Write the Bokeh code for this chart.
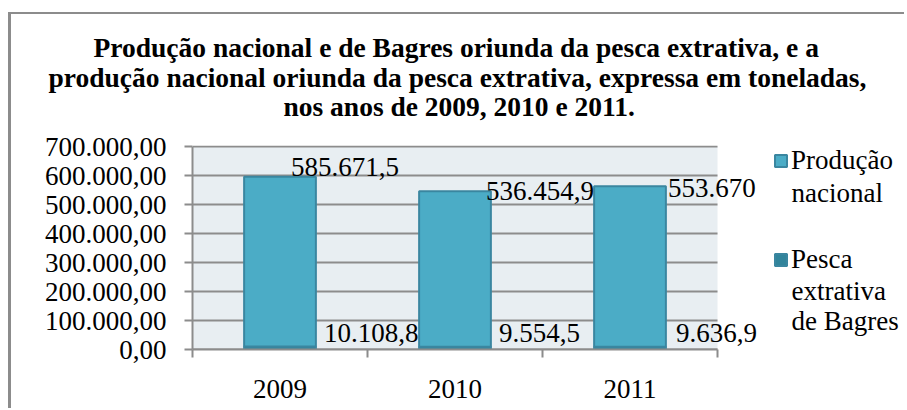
import numpy as np
from bokeh.plotting import figure
from bokeh.models import (Range1d, FixedTicker, LinearAxis, Legend, LegendItem,
                          Label, Title, ColumnDataSource)
from bokeh.embed import file_html
from bokeh.resources import INLINE

# ---- data ----
years = ["2009", "2010", "2011"]
producao_nacional = [585671.5, 536454.9, 553670.0]
pesca_bagres = [10108.8, 9554.5, 9636.9]
y_ticks = [0, 100000, 200000, 300000, 400000, 500000, 600000, 700000]
series_lines = [["Produção", "nacional"], ["Pesca", "extrativa", "de Bagres"]]
title_lines = [
    "Produção nacional e de Bagres oriunda da pesca extrativa, e a",
    "produção nacional oriunda da pesca extrativa, expressa em toneladas,",
    "nos anos de 2009, 2010 e 2011.",
]

# pixel offsets of the manually placed data labels
top_dx = [11, 31, 38]
top_dy = [10, 0, -2]
bot_dx = [44, 44, 46]
bot_dy = [14, 14, 14]


def fmt_br(v, decimals):
    s = f"{v:,.{decimals}f}"
    return s.replace(",", "X").replace(".", ",").replace("X", ".")


def fmt_label(v):
    return fmt_br(v, 0) if float(v).is_integer() else fmt_br(v, 1)


FONT = "Liberation Serif"
FS = "27px"
TFS = "27.5px"
GRAY = "#8C8C8C"
PLOT_BG = "#E8EEF2"
FILL_TOP = "#4BACC6"
FILL_BOT = "#31849B"
EDGE = "#3A86A0"

W, H = 896, 396
LEFT, TOP, BOTTOM = 181, 131, 61
AREA_W = 525                      # width of the shaded plot area
FRAME_W = W - LEFT                # frame extends to the right edge (room for labels/legend)
FRAME_H = H - TOP - BOTTOM
n = len(years)
x_end = n * FRAME_W / AREA_W
y_end = y_ticks[-1] * (1 + 1.0 / (FRAME_H - 1))

x = np.arange(n) + 0.5
bag = np.array(pesca_bagres)
prod = np.array(producao_nacional)
total = bag + prod

p = figure(width=W, height=H, output_backend="svg", toolbar_location=None,
           x_range=Range1d(0, x_end), y_range=Range1d(0, y_end),
           min_border_left=LEFT, min_border_right=0, min_border_top=TOP,
           min_border_bottom=BOTTOM)
p.styles = {"border-top": f"2px solid {GRAY}", "border-left": f"3px solid {GRAY}",
            "margin-top": "12px", "margin-left": "8px"}
p.background_fill_color = "white"
p.border_fill_color = "white"
p.outline_line_color = None

# title: three lines centred over the plot area
TITLE_LEFT = [93, 48, 283]          # left edge of each line (page px)
FRAME_LEFT = 192
TITLE_STANDOFF = [-3.1, -3.1, -5.1]
SPACER_STANDOFF = -7.3


def style_title(t, k):
    t.text = title_lines[k]
    t.align = "left"
    t.offset = TITLE_LEFT[k] - FRAME_LEFT
    t.standoff = TITLE_STANDOFF[k]
    t.text_font = FONT
    t.text_font_size = TFS
    t.text_font_style = "bold"
    t.text_color = "black"


style_title(p.title, 0)                       # outermost line
spacer = Title(text=" ", text_font=FONT, text_font_size=TFS, text_font_style="bold",
               standoff=SPACER_STANDOFF)
p.add_layout(spacer, "above")                 # closest to the plot area
for k in (2, 1):
    t = Title()
    style_title(t, k)
    p.add_layout(t, "above")

# plot area and gridlines (limited to the category span)
p.quad(left=0, right=n, bottom=0, top=y_ticks[-1], fill_color=PLOT_BG, line_color=None)
p.segment(x0=[0] * len(y_ticks), x1=[n] * len(y_ticks), y0=y_ticks, y1=y_ticks,
          line_color=GRAY, line_width=2)

# bars
src = ColumnDataSource(dict(x=x, bag=bag, total=total))
r_bot = p.vbar(x="x", width=0.41, bottom=0, top="bag", source=src,
               fill_color=FILL_BOT, line_color=EDGE, line_width=2)
r_top = p.vbar(x="x", width=0.41, bottom="bag", top="total", source=src,
               fill_color=FILL_TOP, line_color=EDGE, line_width=2)

# axes
yax = p.yaxis[0]
yax.ticker = FixedTicker(ticks=y_ticks)
yax.bounds = (0, y_ticks[-1])
yax.major_label_overrides = {t: fmt_br(t, 2) for t in y_ticks}
yax.major_label_text_font = FONT
yax.major_label_text_font_size = FS
yax.major_label_text_color = "black"
yax.axis_line_color = GRAY
yax.axis_line_width = 2
yax.major_tick_line_color = GRAY
yax.major_tick_line_width = 2
yax.major_tick_out = 8
yax.major_tick_in = 0
yax.minor_tick_line_color = None
yax.major_label_standoff = 18

xax = p.xaxis[0]
xax.ticker = FixedTicker(ticks=list(range(n + 1)))
xax.bounds = (0, n)
xax.major_label_overrides = {i: "" for i in range(n + 1)}
xax.major_label_text_font_size = "1px"
xax.axis_line_color = GRAY
xax.axis_line_width = 2
xax.major_tick_line_color = GRAY
xax.major_tick_line_width = 2
xax.major_tick_out = 8
xax.major_tick_in = 0
xax.minor_tick_line_color = None
xax.major_label_standoff = 0

xlab = LinearAxis(ticker=FixedTicker(ticks=list(x)),
                  major_label_overrides={float(xx): y for xx, y in zip(x, years)},
                  axis_line_color=None, major_tick_line_color=None,
                  minor_tick_line_color=None, major_label_standoff=16,
                  major_label_text_font=FONT, major_label_text_font_size=FS,
                  major_label_text_color="black")
p.add_layout(xlab, "below")

p.xgrid.grid_line_color = None
p.ygrid.grid_line_color = None

# data labels
for i in range(n):
    p.add_layout(Label(x=x[i], y=total[i], text=fmt_label(prod[i]),
                       x_offset=top_dx[i], y_offset=top_dy[i],
                       text_font=FONT, text_font_size=FS, text_color="black",
                       text_align="left", text_baseline="middle"))
    p.add_layout(Label(x=x[i], y=bag[i], text=fmt_label(bag[i]),
                       x_offset=bot_dx[i], y_offset=bot_dy[i],
                       text_font=FONT, text_font_size=FS, text_color="black",
                       text_align="left", text_baseline="middle"))

# legend: squares + first line of each name; further lines as labels
LEG_X = 581          # px from plot-area left
ITEM_Y = [187, 89]   # px from plot-area bottom, centre of each item's first line
LINE_H = 30
legend = Legend(items=[LegendItem(label=series_lines[0][0], renderers=[r_top]),
                       LegendItem(label=series_lines[1][0], renderers=[r_bot])],
                location=(LEG_X, ITEM_Y[1] - 15), orientation="vertical",
                label_text_font=FONT, label_text_font_size=FS, label_text_color="black",
                label_height=30, glyph_width=15, glyph_height=15, label_standoff=3,
                spacing=ITEM_Y[0] - ITEM_Y[1] - 30,
                padding=0, margin=0, border_line_color=None, background_fill_alpha=0)
p.add_layout(legend, "center")

px_x = n / AREA_W
px_y = y_ticks[-1] / (FRAME_H - 1)
for k, lines in enumerate(series_lines):
    for j, txt in enumerate(lines[1:], start=1):
        p.add_layout(Label(x=(LEG_X + 18) * px_x, y=(ITEM_Y[k] - j * LINE_H) * px_y,
                           text=txt, text_font=FONT, text_font_size=FS,
                           text_color="black", text_align="left",
                           text_baseline="middle"))

open("out.html", "w").write(file_html(p, INLINE))
